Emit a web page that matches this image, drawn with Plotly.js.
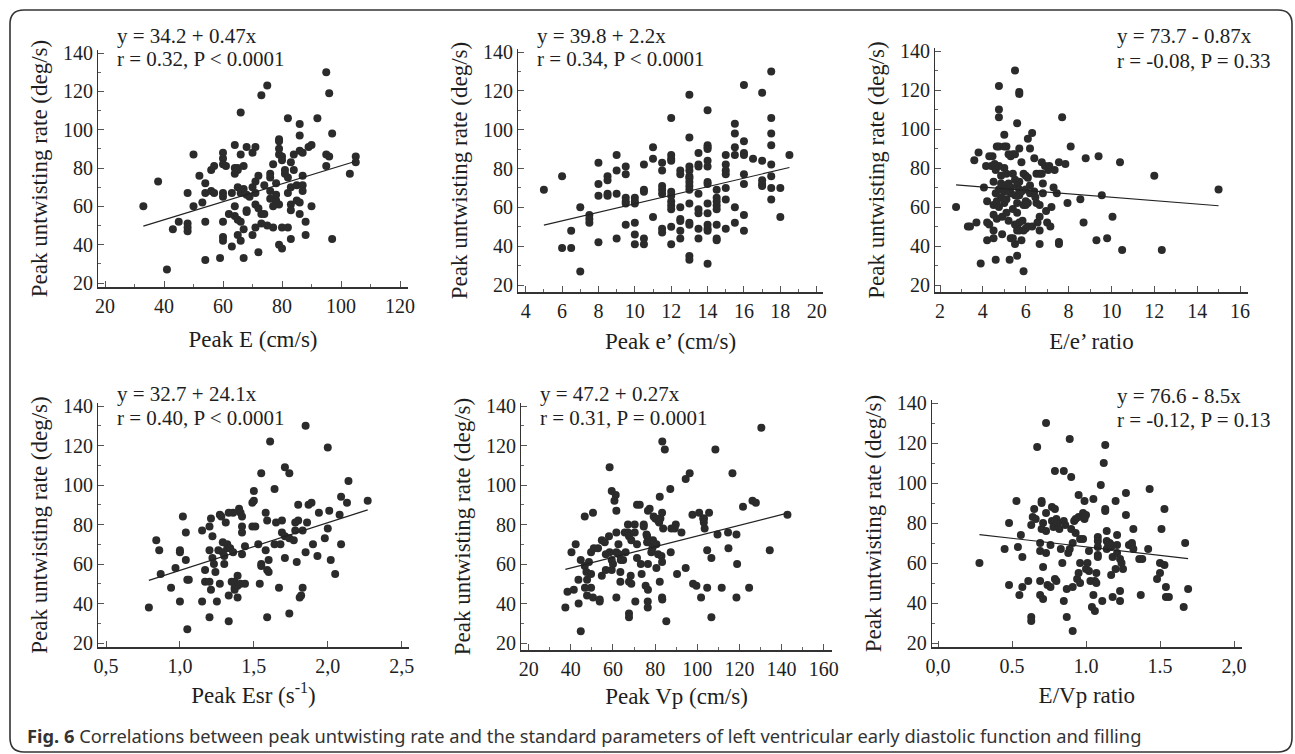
<!DOCTYPE html>
<html><head><meta charset="utf-8">
<script src="https://cdn.plot.ly/plotly-3.0.1.min.js"></script>
<style>html,body{margin:0;padding:0;background:#fff}#chart{width:1295px;height:754px}</style>
</head><body><div id="chart"></div>
<script>
// ---------- DATA ----------
const peakE = [[33,60],[38,73],[41,27],[43,48],[45,52],[48,67],[48,51],[48,49],[48,47],[50,87],[50,60],[52,76],[53,62],[54,72],[54,67],[54,52],[54,32],[56,68],[56,79],[57,81],[57,67],[59,33],[60,88],[60,85],[60,82],[60,67],[60,65],[60,52],[60,44],[60,42],[61,81],[62,56],[63,67],[63,39],[64,92],[64,80],[64,77],[64,60],[64,55],[65,80],[65,79],[65,70],[65,53],[65,45],[66,109],[66,87],[66,67],[66,52],[66,42],[67,81],[67,69],[67,48],[67,33],[68,91],[68,66],[68,58],[68,57],[69,65],[70,88],[70,70],[70,45],[71,91],[71,73],[71,67],[71,61],[71,49],[72,76],[72,59],[72,36],[73,118],[73,56],[73,51],[74,56],[74,71],[75,123],[75,50],[76,77],[76,75],[76,68],[76,64],[77,82],[77,60],[77,49],[78,72],[78,66],[78,63],[78,62],[79,87],[79,95],[79,94],[79,90],[79,61],[79,40],[80,86],[80,84],[80,49],[80,38],[81,77],[81,79],[82,106],[82,75],[82,67],[82,49],[83,83],[83,70],[83,61],[83,58],[83,43],[84,87],[84,79],[85,71],[85,63],[86,103],[86,97],[86,89],[86,62],[86,56],[87,88],[87,76],[87,71],[87,68],[88,52],[88,45],[89,91],[90,92],[90,60],[92,106],[95,130],[95,87],[95,81],[96,119],[96,86],[97,98],[97,43],[103,77],[105,86],[105,83]];
const peakEprime = [[5,69],[6,76],[6,39],[6.5,48],[6.5,39],[7,60],[7,27],[7.5,56],[7.5,54],[7.5,52],[8,83],[8,72],[8,66],[8,42],[8.5,76],[8.5,74],[8.5,67],[8.5,66],[9,87],[9,79],[9,67],[9,44],[9.5,81],[9.5,77],[9.5,65],[9.5,63],[9.5,62],[9.5,51],[10,65],[10,63],[10,62],[10,52],[10,46],[10,41],[10.5,82],[10.5,69],[10.5,68],[10.5,44],[10.5,41],[11,91],[11,85],[11,55],[11.5,83],[11.5,79],[11.5,71],[11.5,69],[11.5,67],[11.5,49],[11.5,47],[12,106],[12,87],[12,85],[12,84],[12,68],[12,66],[12,63],[12,61],[12,59],[12,50],[12,41],[12.5,79],[12.5,77],[12.5,60],[12.5,54],[12.5,53],[12.5,48],[12.5,44],[13,118],[13,96],[13,81],[13,79],[13,76],[13,75],[13,73],[13,71],[13,69],[13,62],[13,52],[13,51],[13,35],[13,33],[13.5,88],[13.5,82],[13.5,81],[13.5,67],[13.5,59],[13.5,57],[13.5,49],[13.5,44],[14,110],[14,92],[14,91],[14,90],[14,84],[14,81],[14,73],[14,72],[14,62],[14,57],[14,51],[14,49],[14,48],[14,31],[14.5,69],[14.5,65],[14.5,63],[14.5,61],[14.5,59],[14.5,51],[14.5,44],[14.5,43],[15,87],[15,82],[15,79],[15,77],[15,70],[15,64],[15,49],[15.5,103],[15.5,98],[15.5,91],[15.5,87],[15.5,60],[15.5,52],[16,123],[16,94],[16,88],[16,87],[16,77],[16,72],[16,56],[16,48],[16.5,85],[17,119],[17,84],[17,74],[17,72],[17,71],[17.5,130],[17.5,106],[17.5,98],[17.5,92],[17.5,82],[17.5,76],[17.5,70],[17.5,64],[18,70],[18,55],[18.5,87]];
const eRatio = [[2.75,60],[3.3,50],[3.4,50],[3.6,84],[3.7,52],[3.8,88],[3.9,31],[4.05,70],[4.15,81],[4.2,63],[4.2,52],[4.2,43],[4.3,86],[4.3,51],[4.4,81],[4.45,86],[4.5,73],[4.5,61],[4.5,56],[4.5,48],[4.5,44],[4.55,82],[4.6,79],[4.6,67],[4.6,33],[4.65,91],[4.65,63],[4.65,54],[4.75,122],[4.75,110],[4.75,106],[4.75,91],[4.75,81],[4.75,69],[4.75,60],[4.85,76],[4.85,72],[4.85,65],[4.9,55],[4.9,46],[5.0,97],[5.0,91],[5.0,80],[5.0,71],[5.0,68],[5.0,62],[5.1,91],[5.1,77],[5.1,57],[5.1,64],[5.2,87],[5.2,72],[5.2,53],[5.25,33],[5.3,86],[5.3,70],[5.3,67],[5.3,44],[5.4,87],[5.4,77],[5.4,59],[5.4,44],[5.5,130],[5.5,87],[5.5,74],[5.5,66],[5.5,51],[5.5,41],[5.6,71],[5.6,103],[5.6,62],[5.6,57],[5.6,50],[5.6,48],[5.6,35],[5.7,119],[5.7,118],[5.7,90],[5.7,73],[5.7,69],[5.7,66],[5.7,52],[5.7,48],[5.8,83],[5.8,68],[5.8,43],[5.85,53],[5.9,27],[5.9,61],[5.9,48],[5.9,77],[6.0,76],[6.0,69],[6.0,63],[6.0,61],[6.0,49],[6.1,95],[6.1,75],[6.1,62],[6.1,50],[6.2,90],[6.2,71],[6.2,67],[6.3,98],[6.3,50],[6.4,85],[6.4,68],[6.45,65],[6.5,77],[6.5,62],[6.55,52],[6.65,77],[6.65,61],[6.65,55],[6.65,48],[6.65,41],[6.75,83],[6.75,77],[6.8,72],[6.8,67],[6.9,81],[6.95,58],[7.0,52],[7.05,79],[7.1,81],[7.15,50],[7.2,60],[7.3,70],[7.35,79],[7.45,67],[7.55,83],[7.55,42],[7.55,41],[7.7,106],[7.85,82],[7.95,62],[8.1,91],[8.55,64],[8.7,52],[8.8,85],[9.3,43],[9.4,86],[9.55,66],[9.8,44],[10.05,55],[10.4,83],[10.5,38],[12.0,76],[12.35,38],[15.0,69]];
const peakEsr = [[0.79,38],[0.84,72],[0.86,67],[0.87,55],[0.94,48],[0.97,58],[1.0,67],[1.0,66],[1.0,41],[1.02,84],[1.04,76],[1.04,62],[1.05,52],[1.06,52],[1.05,27],[1.15,77],[1.15,41],[1.17,57],[1.17,51],[1.2,51],[1.2,79],[1.21,83],[1.2,67],[1.21,47],[1.2,33],[1.22,74],[1.22,63],[1.23,60],[1.24,56],[1.25,41],[1.26,67],[1.27,50],[1.27,85],[1.28,84],[1.29,71],[1.29,66],[1.3,64],[1.3,60],[1.31,81],[1.32,70],[1.32,68],[1.33,86],[1.33,31],[1.34,68],[1.33,44],[1.35,51],[1.36,86],[1.36,66],[1.37,51],[1.37,48],[1.37,47],[1.39,54],[1.39,49],[1.39,43],[1.4,88],[1.41,86],[1.41,50],[1.42,84],[1.42,65],[1.42,76],[1.42,79],[1.44,69],[1.44,50],[1.49,79],[1.51,79],[1.5,97],[1.49,91],[1.5,92],[1.53,70],[1.54,50],[1.55,106],[1.55,59],[1.55,60],[1.58,86],[1.58,67],[1.59,82],[1.59,33],[1.59,57],[1.6,56],[1.6,62],[1.61,122],[1.64,98],[1.64,70],[1.65,81],[1.67,48],[1.68,70],[1.69,82],[1.69,76],[1.71,63],[1.71,74],[1.71,109],[1.74,35],[1.74,106],[1.74,73],[1.77,72],[1.78,81],[1.79,61],[1.8,82],[1.78,77],[1.8,90],[1.81,43],[1.82,44],[1.83,77],[1.83,48],[1.85,130],[1.85,66],[1.86,81],[1.87,90],[1.89,91],[1.9,70],[1.93,64],[1.94,86],[1.98,73],[2.0,119],[2.0,78],[2.01,87],[2.02,62],[2.05,55],[2.08,85],[2.09,94],[2.09,70],[2.13,91],[2.14,102],[2.27,92]];
const peakVp = [[37.4,38],[38.4,46],[41.4,47],[40.3,66],[42.3,70],[43.7,40],[44.7,26],[44.7,62],[43.6,52],[46.6,84],[46.6,59],[47.7,52],[47.4,56],[48.6,61],[49.6,66],[49.6,55],[49.6,48],[50.5,86],[50.9,68],[46.7,48],[47.7,44],[50.5,43],[52.9,68],[53.7,41],[53.7,42],[54.7,54],[54.7,72],[56.1,71],[56.6,65],[56.6,57],[58.1,74],[58.4,66],[58.4,109],[59.4,97],[61.3,95],[60.7,92],[59.4,62],[59.4,57],[60,60],[61.6,87],[61.6,76],[61.6,66],[61.6,43],[62.6,70],[62.9,65],[63.5,56],[63.7,62],[63.5,51],[64.8,62],[65.6,76],[66,66],[67.1,80],[67.1,76],[67.6,74],[67.6,51],[67.6,35],[67.6,33],[68.4,54],[68.7,50],[68.7,72],[70.3,80],[70.3,76],[70.6,41],[71.4,90],[71.4,63],[71.4,70],[72.7,90],[73.2,60],[73.6,55],[74.6,80],[74.6,79],[75.5,49],[75.9,75],[76.2,74],[76.2,71],[76.6,47],[76.5,41],[76.5,38],[76.6,60],[76.6,87],[77.4,88],[77.4,71],[78.2,66],[78.7,68],[79,72],[79.3,84],[80.1,83],[80.6,70],[80.6,58],[81.4,82],[81.4,65],[81.9,81],[82.2,94],[82.5,83],[82.2,51],[83,64],[83.3,86],[83.3,61],[83.4,122],[84.6,118],[83.3,43],[83.4,42],[83.8,78],[85.3,31],[87.2,98],[87.4,66],[87.7,78],[89.3,78],[89.8,80],[90.4,55],[92.5,76],[94.5,58],[94.5,103],[96.4,106],[97.7,85],[98,50],[99.6,49],[100.9,86],[101.8,43],[102.8,83],[103.1,81],[103.5,78],[103.2,83],[104.7,67],[104.7,48],[105.6,86],[106.7,63],[106.7,33],[108.6,118],[109.6,75],[111.6,48],[114.6,76],[114.8,68],[116.7,106],[118.6,75],[118.9,60],[118.6,43],[121.7,89],[124.6,48],[126.2,92],[127.8,91],[130.4,129],[134.4,67],[142.8,85]];
const eVpRatio = [[0.28,60],[0.45,67],[0.48,80],[0.48,49],[0.53,91],[0.54,68],[0.55,44],[0.56,74],[0.57,63],[0.57,48],[0.61,51],[0.63,33],[0.63,31],[0.63,79],[0.65,87],[0.64,83],[0.66,82],[0.67,118],[0.69,51],[0.69,70],[0.69,66],[0.69,44],[0.71,42],[0.7,77],[0.7,91],[0.7,90],[0.71,80],[0.71,58],[0.73,130],[0.73,85],[0.73,76],[0.73,65],[0.74,49],[0.76,48],[0.76,69],[0.77,88],[0.77,81],[0.78,78],[0.79,87],[0.79,106],[0.8,82],[0.79,52],[0.8,51],[0.81,80],[0.82,77],[0.84,60],[0.85,106],[0.83,67],[0.85,81],[0.85,41],[0.86,79],[0.87,33],[0.87,47],[0.88,65],[0.89,67],[0.89,122],[0.9,77],[0.9,103],[0.91,70],[0.91,48],[0.91,26],[0.92,81],[0.93,82],[0.93,75],[0.94,52],[0.95,94],[0.95,55],[0.95,83],[0.96,60],[0.96,50],[0.96,72],[0.98,72],[0.98,85],[0.99,91],[0.99,82],[0.99,83],[1.0,84],[1.0,57],[1.01,60],[1.02,66],[1.02,56],[1.03,51],[1.04,38],[1.05,92],[1.05,44],[1.06,51],[1.06,36],[1.07,55],[1.07,50],[1.08,64],[1.08,71],[1.08,73],[1.08,68],[1.08,63],[1.1,99],[1.11,41],[1.12,110],[1.13,119],[1.13,87],[1.13,86],[1.14,76],[1.14,71],[1.15,69],[1.14,67],[1.16,70],[1.17,68],[1.17,69],[1.17,54],[1.18,43],[1.18,63],[1.2,57],[1.2,91],[1.21,74],[1.21,65],[1.21,69],[1.23,41],[1.23,62],[1.24,60],[1.23,46],[1.25,57],[1.27,95],[1.27,84],[1.29,69],[1.31,70],[1.31,69],[1.32,77],[1.32,67],[1.36,62],[1.38,62],[1.37,44],[1.42,67],[1.43,97],[1.48,52],[1.5,55],[1.5,60],[1.51,77],[1.53,87],[1.53,59],[1.54,48],[1.54,43],[1.56,43],[1.66,38],[1.67,70],[1.69,47]];

const intercepts = [34.2, 39.8, 73.7, 32.7, 47.2, 76.6];
const slopes = [0.47, 2.2, -0.87, 24.1, 0.27, -8.5];
const eqLine1 = ["y = 34.2 + 0.47x", "y = 39.8 + 2.2x", "y = 73.7 - 0.87x", "y = 32.7 + 24.1x", "y = 47.2 + 0.27x", "y = 76.6 - 8.5x"];
const eqLine2 = ["r = 0.32, P &lt; 0.0001", "r = 0.34, P &lt; 0.0001", "r = -0.08, P = 0.33", "r = 0.40, P &lt; 0.0001", "r = 0.31, P = 0.0001", "r = -0.12, P = 0.13"];
const xTitles = ["Peak E (cm/s)", "Peak e’ (cm/s)", "E/e’ ratio", "Peak Esr (s<sup>-1</sup>)", "Peak Vp (cm/s)", "E/Vp ratio"];
const yTitle = "Peak untwisting rate (deg/s)";
const xTickVals = [[20,40,60,80,100,120],[4,6,8,10,12,14,16,18,20],[2,4,6,8,10,12,14,16],[0.5,1,1.5,2,2.5],[20,40,60,80,100,120,140,160],[0,0.5,1,1.5,2]];
const xTickText = [["20","40","60","80","100","120"],["4","6","8","10","12","14","16","18","20"],["2","4","6","8","10","12","14","16"],["0,5","1,0","1,5","2,0","2,5"],["20","40","60","80","100","120","140","160"],["0,0","0.5","1.0","1.5","2,0"]];
const yTickVals = [20,40,60,80,100,120,140];
const caption = "<b>Fig. 6</b> Correlations between peak untwisting rate and the standard parameters of left ventricular early diastolic function and filling";

// ---------- LAYOUT (pixel geometry) ----------
const W = 1295, H = 754;
const series = [peakE, peakEprime, eRatio, peakEsr, peakVp, eVpRatio];
const geom = [
  {l:98,  r:408,  t:50,  b:287, xa:[20,105,120,400],   ya:[140,53,20,283], xminor:10, eq:[115,36,59],   so:15},
  {l:518, r:823,  t:49,  b:292, xa:[4,525.7,20,816.7], ya:[140,52,20,285], xminor:1,  eq:[535,36,59],   so:12},
  {l:935, r:1248, t:48,  b:292, xa:[2,940,16,1240],    ya:[140,51,20,285], xminor:1,  eq:[1115,36,61],  so:12},
  {l:98,  r:409,  t:403, b:647, xa:[0.5,106,2.5,401.7],ya:[140,406,20,643],xminor:0,  eq:[115,394,418], so:11},
  {l:521, r:832,  t:403, b:650, xa:[20,528.7,160,823.7],ya:[140,406,20,643],xminor:10, eq:[538,394,418], so:9},
  {l:931.7,r:1242,t:400, b:647, xa:[0,938,2,1234],     ya:[140,403,20,643],xminor:0,  eq:[1115,396,420], so:11}
];
const serif = '"Liberation Serif", "Times New Roman", serif';
const txt = '#1e1e1e';
const px = x => x / W, py = y => 1 - y / H;

const traces = [];
const layout = {
  width: W, height: H, margin: {l:0, r:0, t:0, b:0},
  paper_bgcolor: '#fff', plot_bgcolor: 'rgba(0,0,0,0)',
  showlegend: false, annotations: [], shapes: []
};

geom.forEach((g, i) => {
  const n = i === 0 ? '' : String(i + 1);
  const d = series[i];
  const xs = d.map(p => p[0]), ys = d.map(p => p[1]);
  traces.push({type:'scatter', mode:'markers', x:xs, y:ys, xaxis:'x'+n, yaxis:'y'+n,
    marker:{size:8, color:'#2b2b2b'}, hoverinfo:'skip'});
  const x0 = Math.min(...xs), x1 = Math.max(...xs);
  traces.push({type:'scatter', mode:'lines', x:[x0, x1],
    y:[intercepts[i] + slopes[i]*x0, intercepts[i] + slopes[i]*x1],
    xaxis:'x'+n, yaxis:'y'+n, line:{color:'#222', width:1.2}, hoverinfo:'skip'});
  const sx = (g.xa[3]-g.xa[1])/(g.xa[2]-g.xa[0]);
  const sy = (g.ya[2]-g.ya[0])/(g.ya[3]-g.ya[1]);
  const xr = [g.xa[0] + (g.l-g.xa[1])/sx, g.xa[0] + (g.r-g.xa[1])/sx];
  const yr = [g.ya[0] + (g.b-g.ya[1])*sy, g.ya[0] + (g.t-g.ya[1])*sy];
  const xax = {
    domain:[px(g.l), px(g.r)], range:xr, anchor:'y'+n,
    showline:true, linecolor:'#333', linewidth:2, showgrid:false, zeroline:false,
    ticks:'inside', ticklen:6, tickwidth:1, tickcolor:'#555',
    tickmode:'array', tickvals:xTickVals[i], ticktext:xTickText[i],
    tickfont:{family:serif, size:20, color:txt},
    title:{text:xTitles[i], font:{family:serif, size:23, color:txt}, standoff:g.so},
    fixedrange:true
  };
  if (g.xminor) xax.minor = {ticks:'inside', tick0:0, dtick:g.xminor, ticklen:3, tickwidth:1, tickcolor:'#666', showgrid:false};
  const yax = {
    domain:[py(g.b), py(g.t)], range:yr, anchor:'x'+n,
    showline:true, linecolor:'#333', linewidth:1, showgrid:false, zeroline:false,
    ticks:'inside', ticklen:6, tickwidth:1, tickcolor:'#555',
    tickmode:'array', tickvals:yTickVals,
    tickfont:{family:serif, size:20, color:txt},
    minor:{ticks:'inside', tick0:0, dtick:10, ticklen:3, tickwidth:1, tickcolor:'#666', showgrid:false},
    title:{text:yTitle, font:{family:serif, size:23, color:txt}, standoff:8},
    fixedrange:true
  };
  layout['xaxis'+n] = xax;
  layout['yaxis'+n] = yax;
  [eqLine1[i], eqLine2[i]].forEach((t, k) => {
    layout.annotations.push({text:t, xref:'paper', yref:'paper', x:px(g.eq[0]), y:py(g.eq[1+k]),
      xanchor:'left', yanchor:'middle', showarrow:false, font:{family:serif, size:21, color:txt}});
  });
});

layout.annotations.push({text:caption, xref:'paper', yref:'paper', x:px(25), y:py(735),
  xanchor:'left', yanchor:'middle', showarrow:false, font:{family:'"Noto Sans", sans-serif', size:18.3, color:'#333'}});

// rounded frame
const L=10, T=10, R=1292, B=752, rr=14;
const P = (x, y) => px(x) + ',' + py(y);
layout.shapes.push({type:'path', xref:'paper', yref:'paper', layer:'below',
  path:'M' + P(L+rr,T) + ' L' + P(R-rr,T) + ' Q' + P(R,T) + ' ' + P(R,T+rr) +
       ' L' + P(R,B-rr) + ' Q' + P(R,B) + ' ' + P(R-rr,B) +
       ' L' + P(L+rr,B) + ' Q' + P(L,B) + ' ' + P(L,B-rr) +
       ' L' + P(L,T+rr) + ' Q' + P(L,T) + ' ' + P(L+rr,T) + ' Z',
  line:{color:'#333', width:1.6}, fillcolor:'rgba(0,0,0,0)'});

Plotly.newPlot('chart', traces, layout, {staticPlot:true, displayModeBar:false});
</script>
</body></html>
